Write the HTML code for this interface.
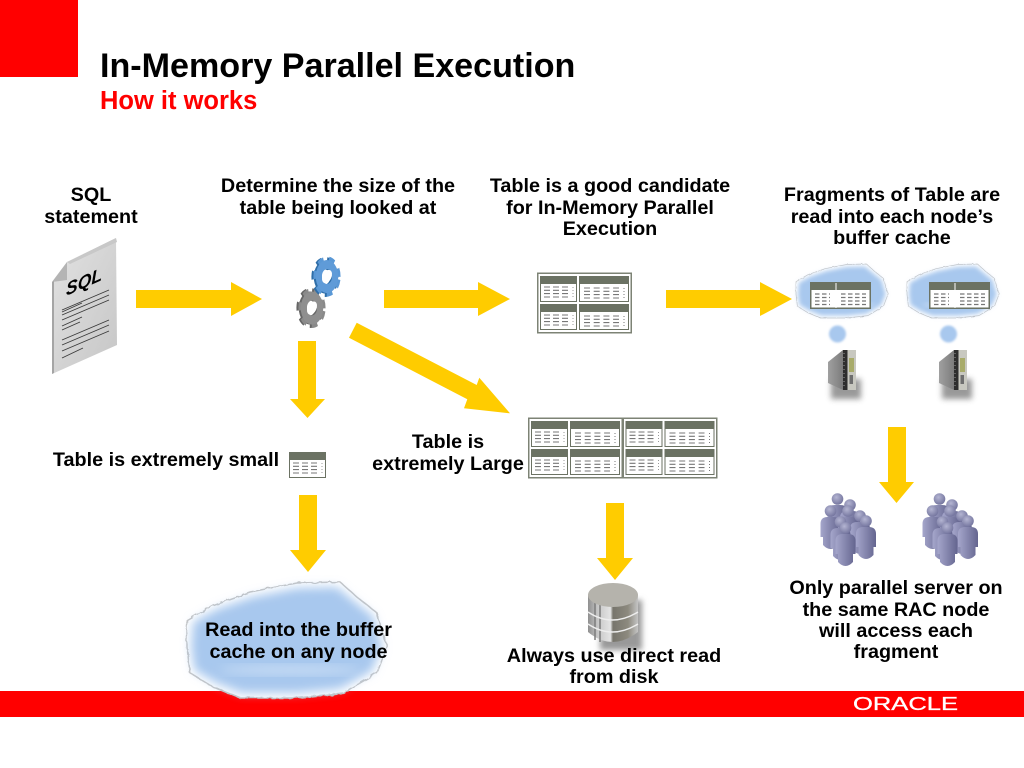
<!DOCTYPE html>
<html><head><meta charset="utf-8"><title>In-Memory Parallel Execution</title>
<style>
html,body{margin:0;padding:0;background:#fff;width:1024px;height:768px;overflow:hidden}
svg{display:block}
text{font-family:"Liberation Sans",sans-serif;font-weight:bold;fill:#000}
.l{font-size:19.8px;text-anchor:middle}
</style></head><body>
<svg width="1024" height="768" viewBox="0 0 1024 768" xmlns="http://www.w3.org/2000/svg">
<defs>
<filter id="b2" x="-20%" y="-20%" width="140%" height="140%"><feGaussianBlur stdDeviation="5"/></filter>
<filter id="b1" x="-40%" y="-40%" width="180%" height="180%"><feGaussianBlur stdDeviation="3"/></filter>
<filter id="b0" x="-20%" y="-20%" width="140%" height="140%"><feGaussianBlur stdDeviation="1"/></filter>
<filter id="rough" x="-5%" y="-5%" width="110%" height="110%"><feTurbulence type="fractalNoise" baseFrequency="0.14" numOctaves="2" seed="4"/><feDisplacementMap in="SourceGraphic" scale="4"/></filter>
<linearGradient id="doc" x1="0" y1="0" x2="1" y2="1"><stop offset="0" stop-color="#e2e2e2"/><stop offset="1" stop-color="#c6c6c6"/></linearGradient>
<linearGradient id="disk" x1="0" y1="0" x2="1" y2="0"><stop offset="0" stop-color="#8f8f8f"/><stop offset=".2" stop-color="#c8c8c8"/><stop offset=".45" stop-color="#e4e4e4"/><stop offset=".5" stop-color="#77756c"/><stop offset=".8" stop-color="#8d8a7f"/><stop offset="1" stop-color="#c4c4c4"/></linearGradient>
<linearGradient id="pers" x1="0" y1="0" x2="1" y2="0"><stop offset="0" stop-color="#a5a6cb"/><stop offset="1" stop-color="#64658f"/></linearGradient>
<radialGradient id="head" cx=".4" cy=".35" r=".7"><stop offset="0" stop-color="#b4b5d2"/><stop offset="1" stop-color="#71729c"/></radialGradient>
<linearGradient id="srv" x1="0" y1="0" x2="1" y2="0"><stop offset="0" stop-color="#a0a0a0"/><stop offset="1" stop-color="#7c7c7c"/></linearGradient>

<g id="c3"><rect x=".5" y=".5" width="36" height="25" fill="#fff" stroke="#6b7263"/><rect width="37" height="8" fill="#6b7263"/>
<path d="M4 11H28M4 14.300H28M4 17.600H28M4 21H28" stroke="#777" stroke-width="1.100" stroke-dasharray="6 3" fill="none"/><path d="M33 11V22" stroke="#999" stroke-dasharray="1 2"/></g>
<g id="c5"><rect x=".5" y=".5" width="49" height="25" fill="#fff" stroke="#6b7263"/><rect width="50" height="8" fill="#6b7263"/>
<path d="M5 12H40M5 15.300H40M5 18.600H40M5 22H40" stroke="#777" stroke-width="1.100" stroke-dasharray="6 3.700" fill="none"/><path d="M45 12V23" stroke="#777" stroke-dasharray="1 2"/></g>
<g id="t4"><rect x=".75" y=".75" width="93.500" height="59.500" fill="#fff" stroke="#7d8375" stroke-width="1.500"/>
<use href="#c3" x="3" y="3.500"/><use href="#c5" x="42" y="3.500"/><use href="#c3" x="3" y="31.500"/><use href="#c5" x="42" y="31.500"/></g>
<g id="t2"><rect x=".75" y=".75" width="59.500" height="25.500" fill="#fff" stroke="#6b7263" stroke-width="1.500"/><rect x="1" y="1" width="59" height="7" fill="#6b7263"/><rect x="25.500" y="1" width="1" height="25" fill="#fff"/><path d="M5 12H20M5 15.500H20M5 19H20M5 22.500H20M31 12H56M31 15.500H56M31 19H56M31 22.500H56" stroke="#777" stroke-width="1.200" stroke-dasharray="4.500 2.500" fill="none"/></g>

<g id="cloud">
<path d="M187 620 L213 605 250 592 297 583 340 582 357 597 377 613 387 647 377 673 343 693 297 698 240 698 213 687 190 673 187 647Z" fill="#fff" stroke="#c4c4c4" stroke-width="1.500" filter="url(#rough)"/>
<path d="M193 622 L217 609 252 597 297 588 337 587 354 601 373 616 382 647 372 671 340 689 297 693 242 693 216 683 194 670 191 647Z" fill="#a8c8ee" filter="url(#b2)"/>
<ellipse cx="290" cy="670" rx="70" ry="5" fill="#c4daf4" filter="url(#b2)"/>
</g>

<g id="server">
<path d="M3 30 H33 V50 H3Z" fill="#777" opacity=".75" filter="url(#b1)"/>
<path d="M0 13 L15 1V41L0 34Z" fill="url(#srv)"/>
<path d="M15 1H28V41H15Z" fill="#c8c8c0"/>
<rect x="15" y="1" width="4.500" height="40" fill="#2e2e2e"/>
<path d="M16 4V40" stroke="#999" stroke-dasharray="1 3"/>
<rect x="21" y="9" width="5" height="14" fill="#a8ab6a"/><rect x="21.500" y="26" width="3.500" height="9" fill="#6e6e6e"/>
</g>

<g id="p"><path d="M-10 26V13Q-10 6-3 6H3Q10 6 10 13V26H7.500V34Q0 42-7.500 34V26Z" fill="url(#pers)"/><circle r="5.800" fill="url(#head)"/></g>
<g id="crowd">
<use href="#p" x="27.500" y="14"/><use href="#p" x="40" y="20"/><use href="#p" x="20.500" y="26"/><use href="#p" x="38" y="26"/><use href="#p" x="50" y="31"/><use href="#p" x="30.500" y="37"/><use href="#p" x="56" y="36"/><use href="#p" x="35.500" y="43"/>
</g>
</defs>

<rect width="78" height="77" fill="#f00"/>
<text x="100" y="77" style="font-size:34.100px">In-Memory Parallel Execution</text>
<text x="100" y="109" style="font-size:25.500px;fill:#f00">How it works</text>

<rect y="691" width="1024" height="26" fill="#f00"/>
<text x="853" y="710" textLength="105" lengthAdjust="spacingAndGlyphs" style="font-size:18.500px;font-weight:normal;fill:#fff;stroke:#fff;stroke-width:.3">ORACLE</text>

<!-- arrows -->
<g fill="#fc0">
<path d="M136 290H231V282L262 299 231 316V308H136Z"/>
<path d="M384 290H478V282L510 299 478 316V308H384Z"/>
<path d="M666 290H760V282L792 299 760 316V308H666Z"/>
<path d="M298 341H316V399H325L307.500 418 290 399H298Z"/>
<path d="M299 495H317V550H326L308 572 290 550H299Z"/>
<path d="M606 503H624V558H633L615 580 597 558H606Z"/>
<path d="M888 427H906V482H914L896.500 503 879 482H888Z"/>
<path d="M356.700 322.700L476.700 385 479.300 377.700 510 413.300 464 408.300 467.300 399.300 349 337.700Z"/>
</g>

<!-- SQL doc -->
<path d="M67 262 L116 238 117 345 52 374 52 282Z" fill="url(#doc)"/>
<path d="M52 282L67 262 67 280Z" fill="#b4b4b4"/>
<path d="M67 262L116 238 117 242 70 264Z" fill="#c8c8c8"/>
<path d="M52 374V282L54 281V373Z" fill="#a5a5a5"/>
<text transform="matrix(.95 -.42 0 1 66 296)" style="font-size:18.500px;font-style:italic">SQL</text>
<path d="M62 310L109 290M62 315L109 295M62 320L109 300M62 326L82 317M62 340L109 320M62 345L109 325M62 351L109 331M62 358L83 348M62 312L82 303M62 330L80 322" stroke="#3a3a3a" stroke-width=".9" fill="none"/>

<!-- gears -->
<g transform="translate(310 308) scale(.68 1) rotate(10)">
<circle r="17" fill="none" stroke="#666" stroke-width="6" stroke-dasharray="8 8"/>
<circle r="12" fill="none" stroke="#666" stroke-width="9"/></g>
<g transform="translate(312 308) scale(.68 1) rotate(10)">
<circle r="17" fill="none" stroke="#8a8a8a" stroke-width="6" stroke-dasharray="8 8"/>
<circle r="12" fill="none" stroke="#8f8f8f" stroke-width="9"/></g>
<ellipse cx="312" cy="308" rx="4.500" ry="7" fill="#fff" transform="rotate(25 312 308)"/>
<g transform="translate(325 277) scale(.68 1) rotate(10)">
<circle r="17" fill="none" stroke="#2f6ea8" stroke-width="6" stroke-dasharray="8 8"/>
<circle r="12" fill="none" stroke="#2f6ea8" stroke-width="9"/></g>
<g transform="translate(327 276.500) scale(.68 1) rotate(10)">
<circle r="17" fill="none" stroke="#5a98d6" stroke-width="6" stroke-dasharray="8 8"/>
<circle r="12" fill="none" stroke="#5f9bd8" stroke-width="9"/></g>
<ellipse cx="327" cy="276.500" rx="4.500" ry="7" fill="#fff" transform="rotate(25 327 276.500)"/>

<!-- tables -->
<use href="#t4" x="537" y="272.500"/>
<use href="#t4" x="528" y="417.500"/><use href="#t4" x="622.500" y="417.500"/>
<g transform="translate(289 452)"><rect x=".5" y=".5" width="36" height="25" fill="#fff" stroke="#999"/><use href="#c3"/></g>

<!-- clouds -->
<use href="#cloud" transform="translate(710 -6.600) scale(.46 .465)"/>
<use href="#cloud" transform="translate(821 -6.600) scale(.46 .465)"/>
<circle cx="837.500" cy="334" r="8.500" fill="#a8c8ee" filter="url(#b0)"/><circle cx="948.500" cy="334" r="8.500" fill="#a8c8ee" filter="url(#b0)"/>
<use href="#t2" x="810" y="282"/><use href="#t2" x="929" y="282"/>
<use href="#server" x="828" y="349"/><use href="#server" x="939" y="349"/>

<!-- big cloud -->
<use href="#cloud"/>

<!-- people -->
<use href="#crowd" x="810" y="485"/><use href="#crowd" x="912" y="485"/>

<!-- disk -->
<path d="M620 600H642V650H600V640Z" fill="#999" filter="url(#b1)"/>
<path d="M588 595V632Q612 652 638 632V595Z" fill="url(#disk)"/>
<path d="M595 602V640M600 604V642" stroke="#7c7c7c" stroke-width="1.500" fill="none"/>
<path d="M588 612Q612 628 638 612M588 624Q612 640 638 624" stroke="#eee" stroke-width="1.500" fill="none"/>
<ellipse cx="613" cy="595" rx="25" ry="12" fill="#b5b3ac"/>

<!-- labels -->
<g>
<text class="l" x="91" y="201">SQL</text><text class="l" x="91" y="223">statement</text>
<text class="l" x="338" y="192">Determine the size of the</text><text class="l" x="338" y="214">table being looked at</text>
<text class="l" x="610" y="192">Table is a good candidate</text><text class="l" x="610" y="214">for In-Memory Parallel</text><text class="l" x="610" y="235">Execution</text>
<text class="l" x="892" y="201">Fragments of Table are</text><text class="l" x="892" y="223">read into each node’s</text><text class="l" x="892" y="244">buffer cache</text>
<text class="l" x="166" y="466">Table is extremely small</text>
<text class="l" x="448" y="448">Table is</text><text class="l" x="448" y="470">extremely Large</text>
<text class="l" x="298.500" y="636">Read into the buffer</text><text class="l" x="298.500" y="658">cache on any node</text>
<text class="l" x="614" y="662">Always use direct read</text><text class="l" x="614" y="683">from disk</text>
<text class="l" x="896" y="594">Only parallel server on</text><text class="l" x="896" y="616">the same RAC node</text><text class="l" x="896" y="637">will access each</text><text class="l" x="896" y="658">fragment</text>
</g>
</svg>
</body></html>
